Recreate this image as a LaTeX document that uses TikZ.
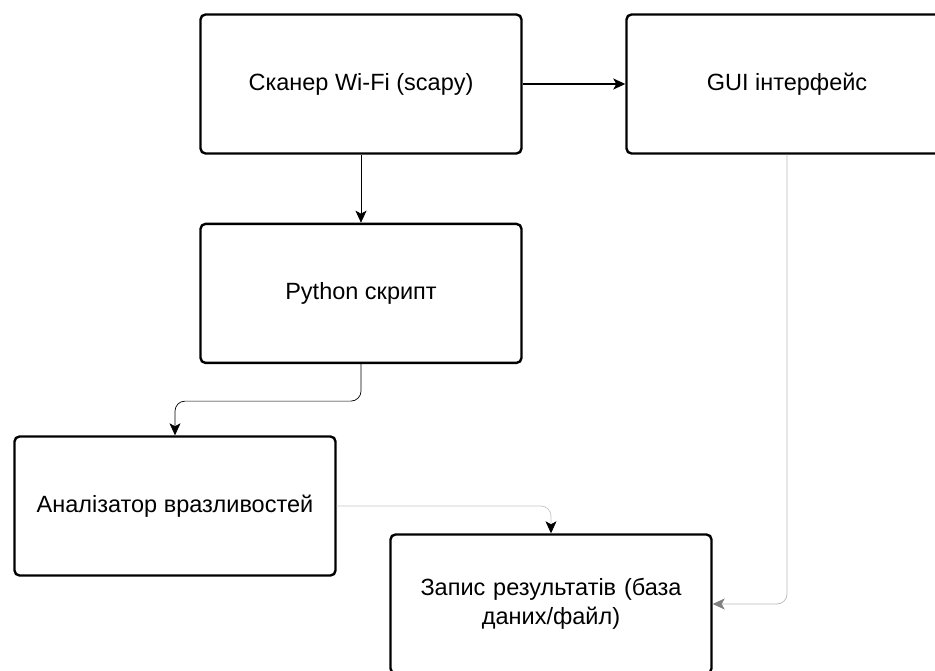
\documentclass[tikz,border=0pt]{standalone}
\usepackage{fontspec}
\setmainfont{Liberation Sans}
\usetikzlibrary{arrows.meta,positioning}

\begin{document}
\begin{tikzpicture}[x=1pt, y=-1pt,
  >={Stealth[length=12pt,width=11pt,inset=3pt]},
  box/.style={draw, line width=2.4pt, rounded corners=5pt,
              minimum width=321pt, minimum height=139pt, align=center,
              font=\fontsize{23.5}{29}\selectfont},
  link/.style={->, line width=0.7pt, rounded corners=10pt}]
\useasboundingbox (0,0) rectangle (935,671);
\clip (0,0) rectangle (935,671);
\node[box] (scan) at (361,84) {Сканер Wi-Fi (scapy)};
\node[box] (gui) at (787,84) {GUI інтерфейс};
\node[box, below=68pt of scan] (py) {Python скрипт};
\node[box] (an) at (175,506) {Аналізатор вразливостей};
\node[box, text width=290pt] (db) at (551,604) {Запис результатів (база\\даних/файл)};
\draw[->, line width=1.6pt] (scan) -- (gui);
\draw[link] (scan) -- (py);
\draw[link] (py.south) -- ++(0,37) -| (an.north);
\draw[link, gray!45, -{Stealth[length=12pt,width=11pt,inset=3pt,black]}] (an.east) -| (db.north);
\draw[link, gray!55, -{Stealth[length=12pt,width=11pt,inset=3pt,gray]}] (gui.south) |- (db.east);
\end{tikzpicture}
\end{document}
